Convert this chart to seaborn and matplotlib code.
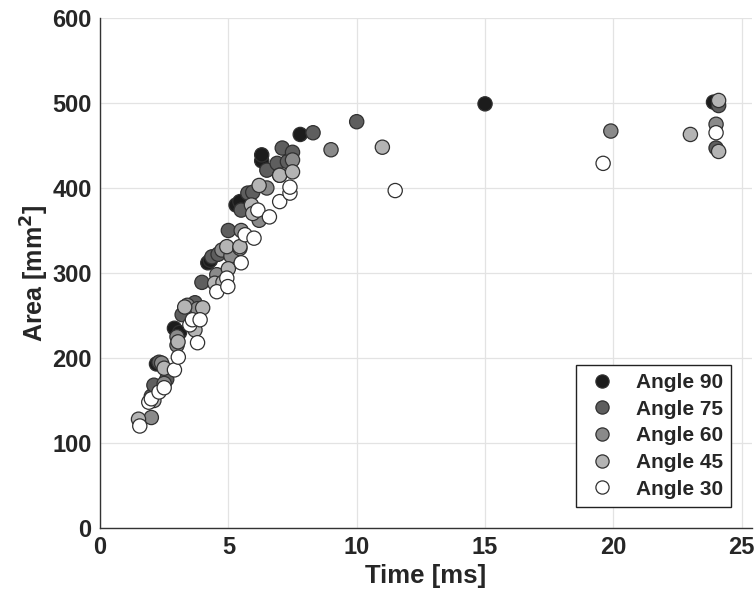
import matplotlib
matplotlib.use("Agg")
import matplotlib.pyplot as plt
import seaborn as sns
import pandas as pd
from matplotlib.lines import Line2D

# ---- data ----
labels = ["Angle 90", "Angle 75", "Angle 60", "Angle 45", "Angle 30"]
colors = ["#1c1c1c", "#5e5e5e", "#8a8a8a", "#b4b4b4", "#ffffff"]

t90 = [2.2, 2.9, 3.1, 4.2, 4.3, 5.3, 5.45, 6.3, 6.3, 7.8, 15.0, 23.9]
a90 = [193, 235, 230, 312, 315, 380, 384, 432, 439, 463, 499, 501]

t75 = [2.0, 2.1, 2.3, 2.6, 3.2, 3.5, 3.7, 3.97, 4.36, 4.6, 5.0, 5.5, 5.76, 5.95,
       6.5, 6.9, 7.1, 7.3, 7.5, 8.3, 10.0, 24.1, 24.0]
a75 = [155, 168, 195, 175, 251, 260, 265, 289, 319, 322, 350, 374, 394, 395,
       421, 429, 447, 431, 442, 465, 478, 497, 447]

t60 = [2.0, 2.4, 2.5, 3.0, 3.0, 3.4, 3.8, 4.55, 4.75, 5.1, 5.5, 6.2, 6.5, 7.0,
       7.5, 9.0, 19.9, 24.0]
a60 = [130, 194, 170, 225, 215, 262, 258, 298, 327, 320, 350, 362, 400, 415,
       433, 445, 467, 475]

t45 = [1.5, 2.1, 2.5, 3.04, 3.3, 3.7, 4.0, 4.47, 4.79, 4.94, 5.0, 5.45, 5.45,
       5.9, 5.95, 6.2, 7.0, 7.5, 11.0, 23.0, 24.1, 24.1]
a45 = [128, 150, 188, 219, 260, 233, 259, 288, 289, 331, 305, 329, 331,
       380, 370, 403, 415, 419, 448, 463, 503, 443]

t30 = [1.55, 1.9, 2.0, 2.3, 2.5, 2.9, 3.05, 3.5, 3.6, 3.8, 3.9, 4.55, 4.94,
       4.98, 5.5, 5.65, 6.0, 6.15, 6.6, 7.0, 7.4, 7.4, 11.5, 19.6, 24.0]
a30 = [120, 148, 152, 160, 165, 186, 201, 239, 245, 218, 245, 278, 294,
       284, 312, 345, 341, 374, 366, 384, 394, 401, 397, 429, 465]

xticks = [0, 5, 10, 15, 20, 25]
yticks = [0, 100, 200, 300, 400, 500, 600]

series = [(t90, a90), (t75, a75), (t60, a60), (t45, a45), (t30, a30)]
rows = []
for lab, (tt, aa) in zip(labels, series):
    for t, a in zip(tt, aa):
        rows.append({"Time": t, "Area": a, "Angle": lab})
df = pd.DataFrame(rows)

sns.set_style("white")
plt.rcParams["font.family"] = ["Liberation Sans", "DejaVu Sans"]
plt.rcParams["font.weight"] = "bold"

fig = plt.figure(figsize=(7.56, 6.04), dpi=100)
ax = fig.add_axes([100 / 756, 76 / 604, 652 / 756, 510 / 604])

palette = dict(zip(labels, colors))
sns.scatterplot(data=df, x="Time", y="Area", hue="Angle", hue_order=labels,
                palette=palette, s=105, edgecolor="#303030", linewidth=0.9,
                alpha=1.0, ax=ax, legend=False, zorder=3)

ax.set_xlim(0, 25.4)
ax.set_ylim(0, 600)
ax.set_xticks(xticks)
ax.set_yticks(yticks)
ax.grid(True, color="#e3e3e3", linewidth=0.9, zorder=0)
ax.set_axisbelow(True)
for s in ["top", "right"]:
    ax.spines[s].set_visible(False)
for s in ["left", "bottom"]:
    ax.spines[s].set_color("#333333")
    ax.spines[s].set_linewidth(1.0)
ax.tick_params(direction="in", length=4, width=0.8, colors="#333333",
               labelsize=17, labelcolor="#262626", pad=6)
for lbl in ax.get_xticklabels() + ax.get_yticklabels():
    lbl.set_fontweight("bold")

ax.set_xlabel("Time [ms]", fontsize=18.5, fontweight="bold", color="#262626", labelpad=3)
ax.set_ylabel("Area [mm$^\\mathbf{2}$]", fontsize=18, fontweight="bold", color="#262626", labelpad=1)

handles = [Line2D([0], [0], marker="o", linestyle="none", markersize=9.5,
                  markerfacecolor=c, markeredgecolor="#303030", markeredgewidth=0.9)
           for c in colors]
leg = ax.legend(handles, labels, loc="lower right", bbox_to_anchor=(0.968, 0.041),
                borderaxespad=0, frameon=True, fancybox=False, edgecolor="#222222",
                framealpha=1, prop={"weight": "bold", "size": 15}, handletextpad=0.75,
                labelspacing=0.37, borderpad=0.4, handlelength=1.7)
leg.get_frame().set_linewidth(1.0)

fig.savefig("out.png", dpi=100)
